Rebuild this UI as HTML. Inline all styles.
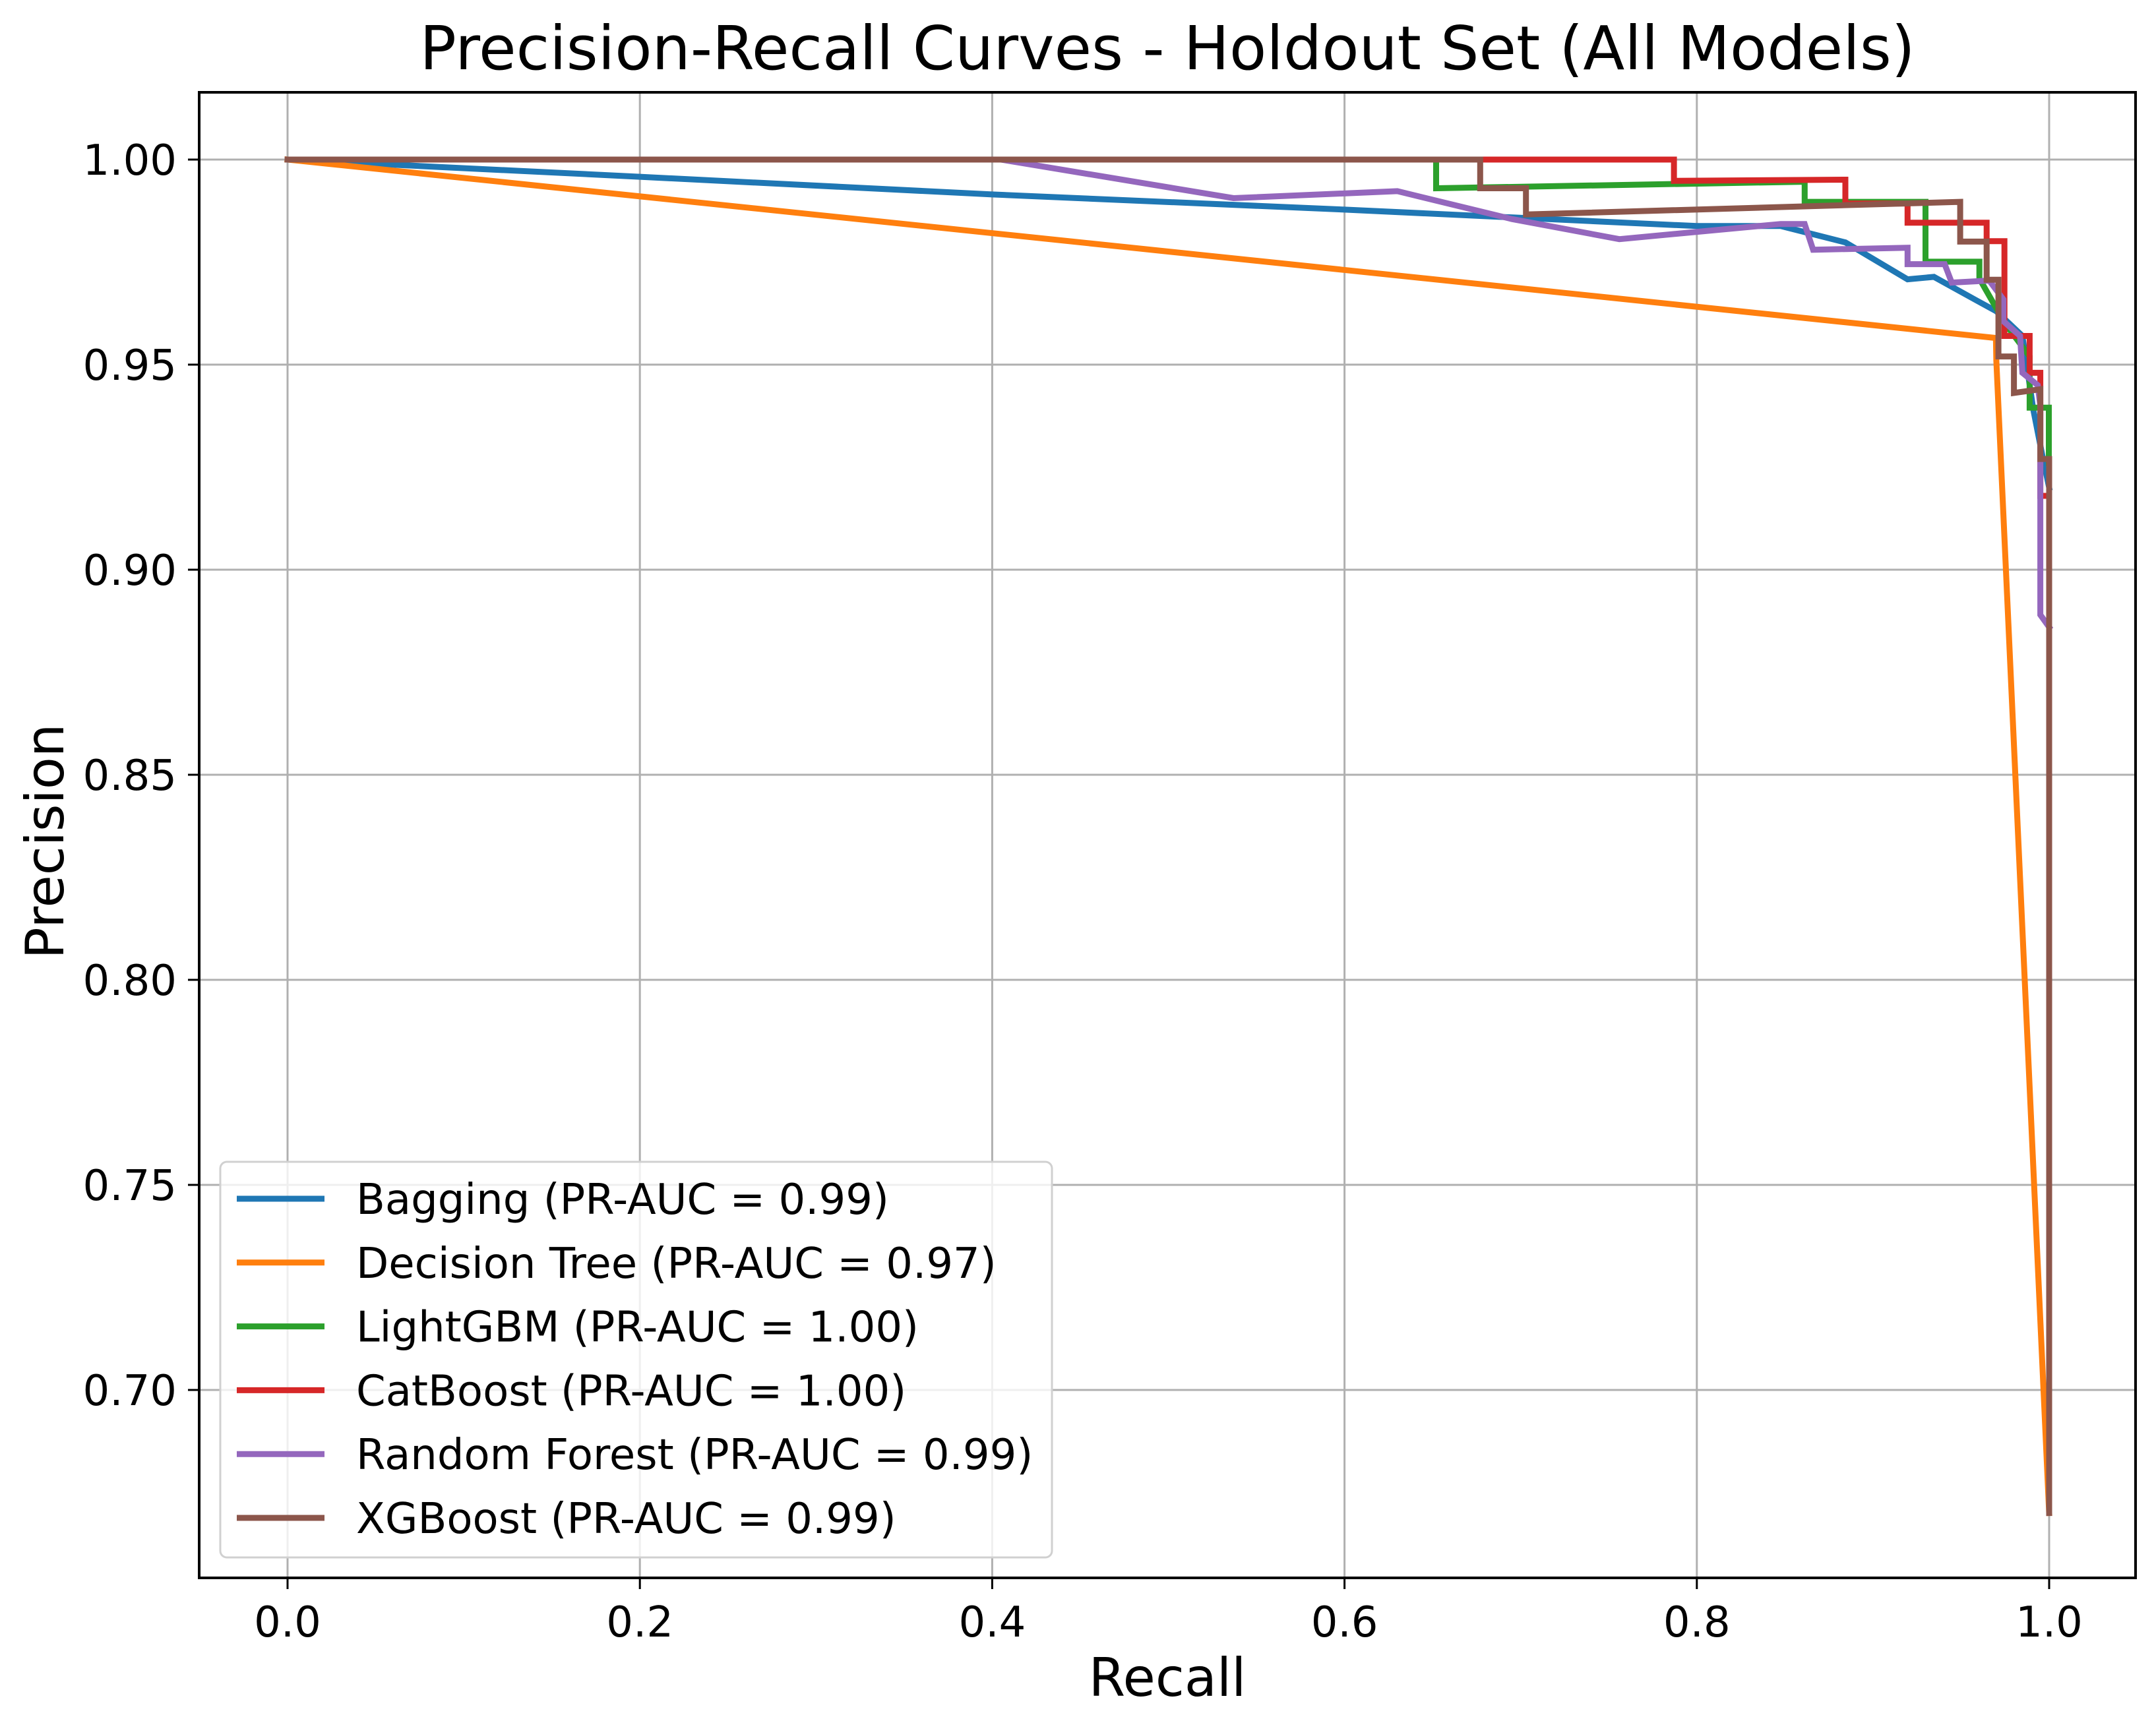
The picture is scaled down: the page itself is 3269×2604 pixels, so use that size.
<!DOCTYPE html>
<html><head><meta charset="utf-8"><style>
html,body{margin:0;padding:0;background:#fff;}
svg{display:block;font-family:"DejaVu Sans","Liberation Sans",sans-serif;}
</style></head><body>
<svg id="chart" width="3269" height="2604" viewBox="0 0 3269 2604" xmlns="http://www.w3.org/2000/svg">
<rect x="0" y="0" width="3269" height="2604" fill="#fff"/>
<text x="1770" y="105" font-size="92" text-anchor="middle" fill="#000">Precision-Recall Curves - Holdout Set (All Models)</text>
<g id="grid"></g>
<g id="series"></g>
<rect x="302" y="140" width="2936" height="2253" fill="none" stroke="#000" stroke-width="4"/>
<g id="ticks"></g>
<text x="1770" y="2572" font-size="80" text-anchor="middle">Recall</text>
<text x="0" y="0" font-size="80" text-anchor="middle" transform="translate(96,1276) rotate(-90)">Precision</text>
<g id="legend"></g>
</svg>
<script>
const NS="http://www.w3.org/2000/svg";
const xTicks=[0,0.2,0.4,0.6,0.8,1.0];
const xTickLabels=["0.0","0.2","0.4","0.6","0.8","1.0"];
const yTicks=[0.70,0.75,0.80,0.85,0.90,0.95,1.00];
const yTickLabels=["0.70","0.75","0.80","0.85","0.90","0.95","1.00"];
const seriesNames=["Bagging (PR-AUC = 0.99)","Decision Tree (PR-AUC = 0.97)","LightGBM (PR-AUC = 1.00)","CatBoost (PR-AUC = 1.00)","Random Forest (PR-AUC = 0.99)","XGBoost (PR-AUC = 0.99)"];
const seriesColors=["#1f77b4","#ff7f0e","#2ca02c","#d62728","#9467bd","#8c564b"];
const baggingR=[0,0.2,0.4,0.6,0.8,0.8476,0.8843,0.9196,0.9346,0.959,0.970,0.9848,0.991,0.9963,1.0];
const baggingP=[1,0.9958,0.9915,0.9878,0.9838,0.9838,0.9798,0.9708,0.9714,0.9656,0.963,0.957,0.939,0.9275,0.92];
const treeR=[0,0.9698,0.970,1.0];
const treeP=[1,0.9565,0.951,0.670];
const lgbmR=[0,0.652,0.652,0.8612,0.8612,0.9298,0.9298,0.9604,0.9604,0.975,0.9889,0.9889,0.9998,0.9998];
const lgbmP=[1,1,0.993,0.9946,0.9897,0.9897,0.9751,0.9751,0.971,0.960,0.952,0.9395,0.9395,0.926];
const catR=[0,0.787,0.787,0.8843,0.8843,0.9196,0.9196,0.9645,0.9645,0.9746,0.9746,0.9889,0.9889,0.995,0.995,1.0];
const catP=[1,1,0.9948,0.9951,0.9893,0.9893,0.9846,0.9846,0.9801,0.9801,0.957,0.957,0.948,0.948,0.918,0.918];
const rfR=[0,0.405,0.537,0.63,0.695,0.756,0.8476,0.8612,0.866,0.9196,0.9196,0.9407,0.9447,0.966,0.974,0.974,0.9835,0.9848,0.9935,0.995,0.995,1.0];
const rfP=[1,1,0.9906,0.9923,0.9855,0.9806,0.9843,0.9843,0.978,0.9785,0.9745,0.9745,0.970,0.9705,0.9659,0.9606,0.957,0.948,0.945,0.94,0.889,0.886];
const xgbR=[0,0.677,0.677,0.703,0.703,0.9495,0.9495,0.9645,0.9645,0.9712,0.9712,0.980,0.980,0.995,0.995,1.0,1.0];
const xgbP=[1,1,0.993,0.993,0.9866,0.9897,0.980,0.980,0.9707,0.9707,0.952,0.952,0.9431,0.944,0.927,0.927,0.670];
const seriesR=[baggingR,treeR,lgbmR,catR,rfR,xgbR];
const seriesP=[baggingP,treeP,lgbmP,catP,rfP,xgbP];
const seriesKeys=["bagging","decision-tree","lightgbm","catboost","random-forest","xgboost"];

const X0=436,X1=3107,YTOP=242,PX=6220;
function xs(r){return X0+r*(X1-X0);}
function ys(p){return YTOP+(1-p)*PX;}
function mk(tag,attrs){const e=document.createElementNS(NS,tag);for(const k in attrs)e.setAttribute(k,attrs[k]);return e;}

const grid=document.getElementById('grid'),ticks=document.getElementById('ticks');
xTicks.forEach((t,i)=>{
  const g=mk('line',{x1:xs(t),x2:xs(t),y1:140,y2:2393,stroke:'#b0b0b0','stroke-width':3});
  
  
  grid.appendChild(g);
  const tk=mk('line',{x1:xs(t),x2:xs(t),y1:2393,y2:2410,stroke:'#000','stroke-width':3});
  
  
  ticks.appendChild(tk);
  const tx=mk('text',{x:xs(t),y:2482,'font-size':64,'text-anchor':'middle'});
  
  
  tx.textContent=xTickLabels[i];ticks.appendChild(tx);
});
yTicks.forEach((t,i)=>{
  const g=mk('line',{x1:302,x2:3238,y1:ys(t),y2:ys(t),stroke:'#b0b0b0','stroke-width':3});
  
  
  grid.appendChild(g);
  const tk=mk('line',{x1:285,x2:302,y1:ys(t),y2:ys(t),stroke:'#000','stroke-width':3});
  
  
  ticks.appendChild(tk);
  const tx=mk('text',{x:268,y:ys(t)+23,'font-size':64,'text-anchor':'end'});
  
  
  tx.textContent=yTickLabels[i];ticks.appendChild(tx);
});

const ser=document.getElementById('series');
seriesR.forEach((R,i)=>{
  const P=seriesP[i];
  const pts=R.map((r,j)=>xs(r).toFixed(1)+','+ys(P[j]).toFixed(1)).join(' ');
  const pl=mk('polyline',{points:pts,fill:'none',stroke:seriesColors[i],'stroke-width':9,'stroke-linejoin':'miter','stroke-linecap':'square'});
  
  
  ser.appendChild(pl);
});

const leg=document.getElementById('legend');
const box=mk('rect',{x:334,y:1762,width:1261,height:600,rx:10,fill:'#fff','fill-opacity':0.8,stroke:'#d0d0d0','stroke-width':3});


leg.appendChild(box);
seriesNames.forEach((n,i)=>{
  const y=1818+i*96.8;
  const ln=mk('line',{x1:359,x2:492,y1:y,y2:y,stroke:seriesColors[i],'stroke-width':9});
  
  
  leg.appendChild(ln);
  const t=mk('text',{x:540,y:y+23,'font-size':64});
  
  
  t.textContent=n;leg.appendChild(t);
});
</script>
</body></html>
